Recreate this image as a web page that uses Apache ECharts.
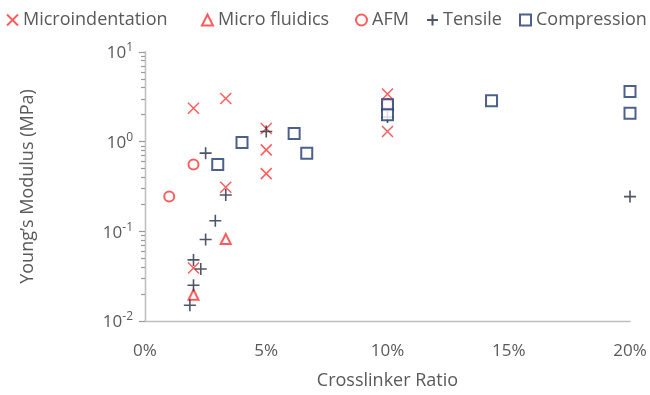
<!DOCTYPE html>
<html>
<head>
<meta charset="utf-8">
<script src="https://cdn.jsdelivr.net/npm/echarts@6/dist/echarts.min.js"></script>
<style>html,body{margin:0;padding:0;background:#fff}#c{width:650px;height:395px}</style>
</head>
<body>
<div id="c"></div>
<script>
// Crosslinker ratio (%) vs Young's modulus (MPa)
var microindentation = [[2,2.36],[3.33,3.03],[5,1.40],[5,0.81],[5,0.44],[3.33,0.31],[2,0.039],[10,3.4],[10,1.3]];
var microfluidics = [[3.33,0.082],[2,0.0196]];
var afm = [[1,0.244],[2,0.555],[10,2.63]];
var tensile = [[2.5,0.745],[5,1.3],[3.33,0.254],[2.9,0.131],[2.5,0.081],[2,0.048],[2.3,0.038],[2,0.025],[1.85,0.015],[10,1.88],[20,0.244]];
var compression = [[4,0.98],[3,0.555],[6.15,1.23],[6.67,0.745],[10,2.58],[10,1.99],[14.29,2.86],[20,3.62],[20,2.08]];
var seriesNames = ['Microindentation','Micro fluidics','AFM','Tensile','Compression'];
var decades = [-2, -1, 0];
var minorMantissas = [2, 3, 4, 5, 6, 7, 8, 9];

var FONT = '"Open Sans", "Noto Sans", sans-serif';
var TXT = '#595959';
var RED = '#ff3535';
var NAVY = '#1f3870';
var DARK = '#222a40';
var AXIS = '#bfbfbf';
var TICK = '#9a9a9a';
var X_PATH = 'path://M0,0L10,10M10,0L0,10';
var PLUS_PATH = 'path://M5,0L5,10M0,5L10,5';

// minor tick positions (log10 of 2..9 x 10^n), for the tick-only helper axis
var minorTickExps = [];
decades.forEach(function (d) {
  minorMantissas.forEach(function (m) { minorTickExps.push(d + Math.log10(m)); });
});

var chart = echarts.init(document.getElementById('c'), null, {renderer:'canvas'});

function legendAt(left, name) {
  return {
    data:[name], left:left, top:11, padding:0, itemWidth:11, itemHeight:11, itemGap:0,
    textStyle:{fontFamily:FONT, fontSize:18, color:TXT}
  };
}

var option = {
  animation:false,
  backgroundColor:'#fff',
  legend:[
    legendAt(6, seriesNames[0]),
    legendAt(201, seriesNames[1]),
    legendAt(355, seriesNames[2]),
    legendAt(426, seriesNames[3]),
    legendAt(519, seriesNames[4])
  ],
  grid:{left:145, right:20, top:52, bottom:69},
  xAxis:{
    type:'value', min:0, max:20, interval:5,
    axisLine:{onZero:false, lineStyle:{color:AXIS, width:1.3}},
    axisTick:{show:false},
    splitLine:{show:false},
    axisLabel:{fontFamily:FONT, fontSize:17, color:TXT, margin:22, formatter:'{value}%'},
    name:'Crosslinker Ratio', nameLocation:'middle', nameGap:51,
    nameTextStyle:{fontFamily:FONT, fontSize:18, color:TXT}
  },
  yAxis:[{
    type:'log', logBase:10, min:0.01, max:10,
    axisLine:{show:true, onZero:false, lineStyle:{color:AXIS, width:1.3}},
    axisTick:{show:true, inside:false, length:6, lineStyle:{color:TICK, width:1.2}},
    splitLine:{show:false},
    axisLabel:{
      margin:12,
      formatter:function(v){ var e = Math.round(Math.log10(v)); return '{b|10}{s|' + e + '}'; },
      rich:{
        b:{fontFamily:FONT, fontSize:17, color:TXT, verticalAlign:'bottom', lineHeight:20},
        s:{fontFamily:FONT, fontSize:12, color:TXT, verticalAlign:'top', lineHeight:20}
      }
    },
    name:'Young\u2019s Modulus (MPa)', nameLocation:'middle', nameGap:108,
    nameTextStyle:{fontFamily:FONT, fontSize:18, color:TXT}
  },{
    // helper axis: only draws the logarithmic minor ticks
    type:'value', min:-2, max:1, position:'left', offset:0,
    axisLine:{show:true, onZero:false, lineStyle:{color:AXIS, width:1.3}},
    axisTick:{show:true, inside:false, length:4, customValues:minorTickExps, lineStyle:{color:TICK, width:1.2}},
    axisLabel:{show:false},
    splitLine:{show:false}
  }],
  series:[
    {name:seriesNames[0], type:'scatter', data:microindentation, symbol:X_PATH, symbolSize:11,
      itemStyle:{color:'rgba(0,0,0,0)', borderColor:RED, borderWidth:1.5}},
    {name:seriesNames[1], type:'scatter', data:microfluidics, symbol:'triangle', symbolSize:10,
      itemStyle:{color:'#fff', borderColor:RED, borderWidth:2}},
    {name:seriesNames[2], type:'scatter', data:afm, symbol:'circle', symbolSize:10,
      itemStyle:{color:'#fff', borderColor:RED, borderWidth:2}},
    {name:seriesNames[3], type:'scatter', data:tensile, symbol:PLUS_PATH, symbolSize:12,
      itemStyle:{color:'rgba(0,0,0,0)', borderColor:DARK, borderWidth:1.6}},
    {name:seriesNames[4], type:'scatter', data:compression, symbol:'rect', symbolSize:11,
      itemStyle:{color:'#fff', borderColor:NAVY, borderWidth:2}}
  ]
};
chart.setOption(option);
</script>
</body>
</html>
